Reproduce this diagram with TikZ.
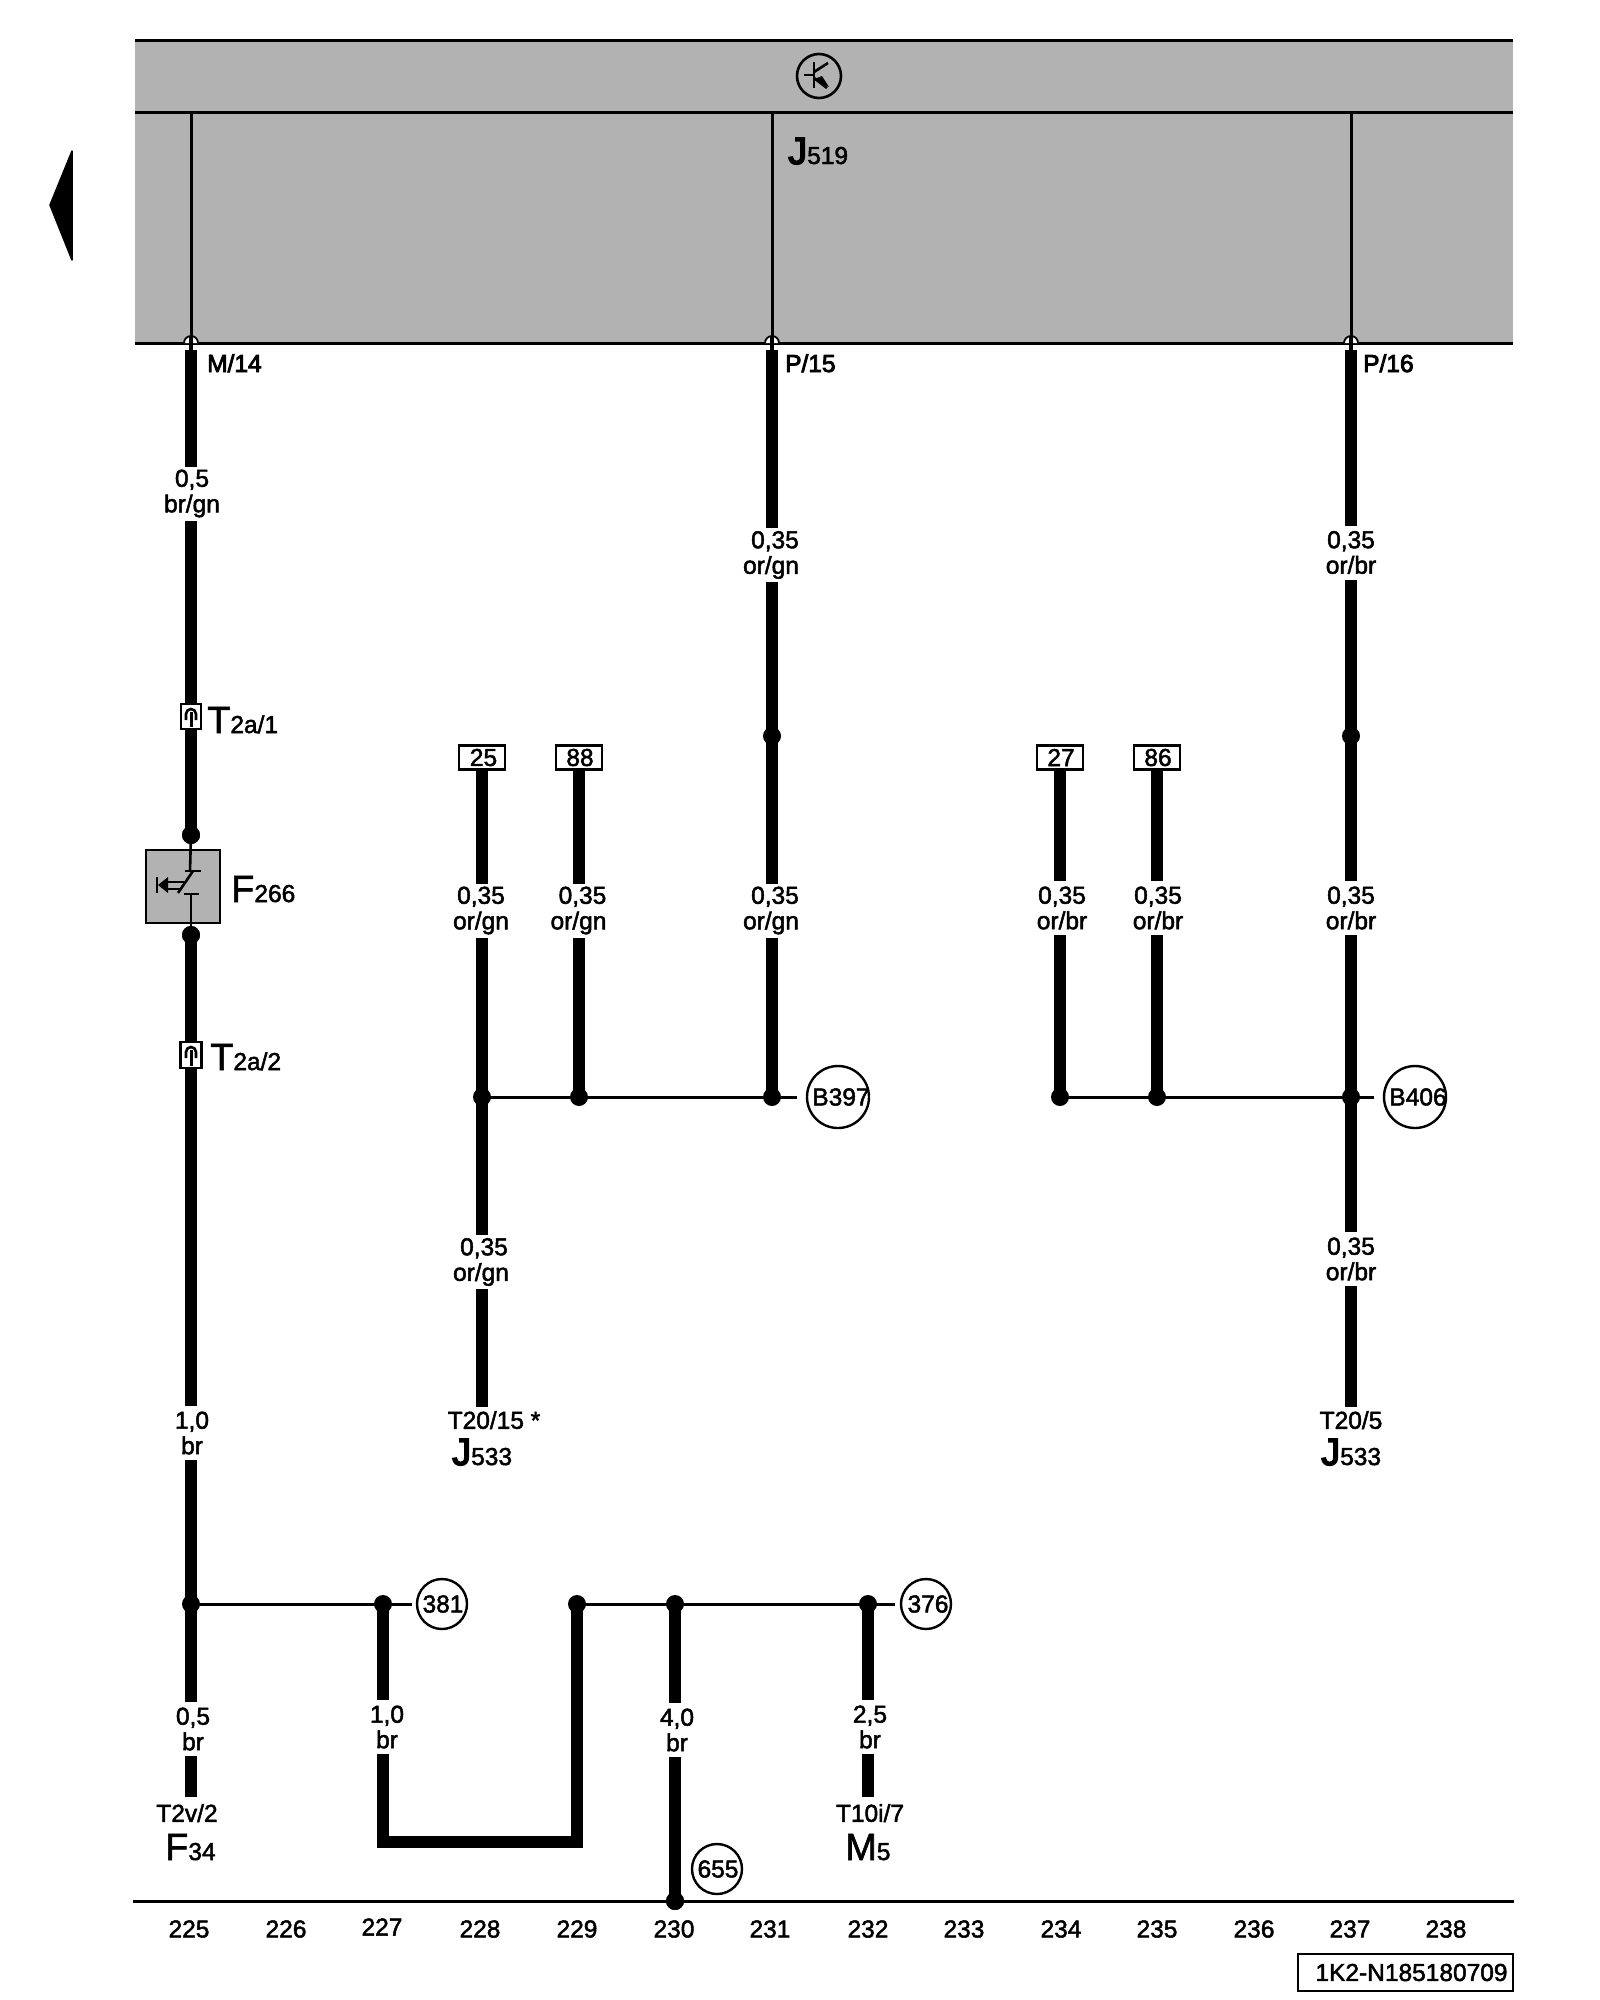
\documentclass[tikz,border=0pt]{standalone}
\usepackage{fontspec}
\setmainfont{Liberation Sans}
\newfontfamily\labf[FakeBold=2]{Liberation Sans}
\newfontfamily\pinf[FakeBold=3.5]{Liberation Sans}
\newfontfamily\bigf[FakeBold=1.5]{Liberation Sans}
\newfontfamily\jbf[FakeBold=4]{Liberation Sans}
\definecolor{panel}{HTML}{B2B2B2}
\tikzset{
  x=1pt,y=-1pt,
  wire/.style={line width=12.5pt,black},
  thin wire/.style={line width=3pt,black},
  frame line/.style={line width=3pt,black},
  dotn/.style={circle,fill=black,inner sep=0pt,minimum size=18pt},
  gauge/.style={fill=white,inner sep=0pt,inner xsep=1pt,minimum height=54pt,align=center,font=\labf\fontsize{24.5}{25.5}\selectfont},
  txt/.style={inner sep=0pt,font=\labf\fontsize{24.5}{26}\selectfont},
  pin/.style={inner sep=0pt,anchor=base west,font=\pinf\fontsize{24.5}{26}\selectfont},
  bigl/.style={inner sep=0pt,anchor=base west,font=\bigf\fontsize{38}{40}\selectfont},
  refc/.style={circle,draw=black,line width=2.4pt,fill=white,inner sep=0pt,minimum size=50pt,font=\labf\fontsize{24.5}{26}\selectfont},
  refb/.style={refc,minimum size=62pt},
  term/.style={draw=black,line width=2.4pt,fill=white,inner sep=0pt,minimum width=46pt,minimum height=24pt,font=\labf\fontsize{24.5}{26}\selectfont},
  conn/.style={draw=black,line width=2.4pt,fill=white,inner sep=0pt,minimum width=20pt,minimum height=25pt},
  sym/.style={line width=2.6pt,black},
}
\newcommand{\subs}[1]{{\labf\fontsize{24.5}{26}\selectfont #1}}
\begin{document}
\begin{tikzpicture}
\path[use as bounding box] (0,0) rectangle (1600,2000);
% control unit
\fill[panel] (135,40) rectangle (1513,343);
\coordinate (fl1) at (135,40); \coordinate (fr1) at (1513,40);
\coordinate (fl2) at (135,112); \coordinate (fr2) at (1513,112);
\coordinate (fl3) at (135,343); \coordinate (fr3) at (1513,343);
\draw[frame line] (fl1) -- (fr1);
\draw[frame line] (fl2) -- (fr2);
% back arrow
\fill[black,draw=black,line width=1.5pt,line join=round] (72,151) -- (50,205) -- (72,260) -- cycle;
% transistor symbol
\node[circle,draw=black,line width=2.6pt,inner sep=0pt,minimum size=44pt] (tr) at (819,76) {};
\draw[sym] (814,62) -- (814,88);
\draw[sym] (804,75) -- (814,75);
\draw[sym] (814,72) -- (828,63);
\draw[sym] (814,78) -- (827,88);
\fill[black] (829,87) -- (814,79) -- (822,76) -- cycle;
% internal lines
\coordinate (m0) at (191,112); \coordinate (m1) at (191,343);
\coordinate (p0) at (772,112); \coordinate (p1) at (772,343);
\coordinate (q0) at (1351,112); \coordinate (q1) at (1351,343);
\draw[thin wire] (m0) -- (m1);
\draw[thin wire] (p0) -- (p1);
\draw[thin wire] (q0) -- (q1);
\draw[frame line] (fl3) -- (fr3);
% pin circles
\foreach \xx in {191,772,1351}{
  \fill[white] (\xx-7,343) arc[start angle=180,end angle=360,x radius=7pt,y radius=-7pt] -- cycle;
  \draw[line width=1.8pt] (\xx-7,343) arc[start angle=180,end angle=360,x radius=7pt,y radius=-7pt];
  \draw[line width=4.5pt] (\xx,336) -- (\xx,350);
}
\node[bigl,font=\jbf\fontsize{38}{40}\selectfont] (j519) at (788,164) {J\subs{519}};
\node[pin] (m14) at (207,372) {M/14};
\node[pin] (p15) at (785,372) {P/15};
\node[pin] (p16) at (1363,372) {P/16};
% column 225
\coordinate (ms) at (191,350);
\node[dotn] (d1) at (191,835) {};
\node[dotn] (d2) at (191,935) {};
\node[dotn] (j1) at (191,1604) {};
\coordinate (e1) at (191,1797);
\draw[wire] (ms) -- (d1.center);
\draw[wire] (d2.center) -- (j1.center) -- (e1);
\node[gauge] (g1) at (192,493.5) {0,5\\br/gn};
\node[gauge] (g2) at (192,1433) {1,0\\br};
\node[gauge] (g3) at (193,1729) {0,5\\br};
% connectors
\node[conn] (t1) at (191,716.5) {};
\draw[sym] (186,720) -- (186,714) arc[start angle=180,end angle=0,radius=5pt] -- (196,720);
\draw[line width=3pt] (191,712) -- (191,727);
\node[bigl] (t1l) at (207,733) {T\subs{2a/1}};
\node[conn,minimum width=21pt,minimum height=26pt] (t2) at (191,1055) {};
\draw[sym] (186,1058) -- (186,1052) arc[start angle=180,end angle=0,radius=5pt] -- (196,1058);
\draw[line width=3pt] (191,1050) -- (191,1066);
\node[bigl] (t2l) at (210,1070) {T\subs{2a/2}};
% switch
\node[draw=black,line width=2.4pt,fill=panel,inner sep=0pt,minimum width=74pt,minimum height=73pt] (sw) at (183,886.5) {};
\draw[sym] (d1.center) -- (190,871);
\draw[sym] (185,871) -- (201,871);
\draw[sym] (178,893) -- (193,871);
\draw[sym] (184,894) -- (199,894);
\draw[sym] (191,894) -- (d2.center);
\draw[sym] (157,877) -- (157,893);
\fill[black] (158,885) -- (168,877) -- (168,893) -- cycle;
\draw[line width=2pt] (166,882) -- (184,882);
\draw[line width=2pt] (166,889) -- (181,889);
\node[bigl] (f266) at (231,902) {F\subs{266}};
\node[dotn] at (d1) {};
\node[dotn] at (d2) {};
\node[txt] (t2v) at (187,1813) {T2v/2};
\node[bigl] (f34) at (165,1860) {F\subs{34}};
% B397 group
\node[dotn] (a1) at (482,1097) {};
\node[dotn] (a2) at (579,1097) {};
\node[dotn] (a3) at (772,1097) {};
\coordinate (a4) at (797,1097);
\node[refb] (b397) at (838,1097) {\makebox[0pt]{\hspace{6pt}B397}};
\node[term] (t25) at (482,757.5) {\hspace{3pt}25};
\node[term] (t88) at (579,757.5) {\hspace{2pt}88};
\coordinate (a5) at (482,1407);
\coordinate (ps) at (772,350);
\node[dotn] (pd) at (772,736) {};
\draw[wire] (t25) -- (a1.center) -- (a5);
\draw[wire] (t88) -- (a2.center);
\draw[wire] (ps) -- (pd.center) -- (a3.center);
\draw[thin wire] (a1.center) -- (a4);
\node[gauge] (g4) at (771,555) {\hspace{8pt}0,35\\or/gn};
\node[gauge] (g5) at (771,910.5) {\hspace{8pt}0,35\\or/gn};
\node[gauge] (g6) at (481,910.5) {0,35\\or/gn};
\node[gauge] (g7) at (578.5,910.5) {\hspace{8pt}0,35\\or/gn};
\node[gauge] (g8) at (481,1262) {\hspace{6pt}0,35\\or/gn};
\node[txt] (t2015) at (494,1420) {T20/15 *};
\node[bigl,font=\jbf\fontsize{38}{40}\selectfont] (j5331) at (452,1465) {J\subs{533}};
% B406 group
\node[dotn] (c1) at (1060,1097) {};
\node[dotn] (c2) at (1157,1097) {};
\node[dotn] (c3) at (1351,1097) {};
\coordinate (c4) at (1374,1097);
\node[refb] (b406) at (1415,1097) {\makebox[0pt]{\hspace{6pt}B406}};
\node[term] (t27) at (1060,757.5) {\hspace{2pt}27};
\node[term] (t86) at (1157,757.5) {\hspace{2pt}86};
\coordinate (c5) at (1351,1407);
\coordinate (qs) at (1351,350);
\node[dotn] (qd) at (1351,736) {};
\draw[wire] (t27) -- (c1.center);
\draw[wire] (t86) -- (c2.center);
\draw[wire] (qs) -- (qd.center) -- (c3.center) -- (c5);
\draw[thin wire] (c1.center) -- (c4);
\node[gauge] (g9) at (1351,552.5) {0,35\\or/br};
\node[gauge] (g10) at (1351,908) {0,35\\or/br};
\node[gauge] (g11) at (1062,908) {0,35\\or/br};
\node[gauge] (g12) at (1158,908) {0,35\\or/br};
\node[gauge] (g13) at (1351,1259) {0,35\\or/br};
\node[txt] (t205) at (1351,1420) {T20/5};
\node[bigl,font=\jbf\fontsize{38}{40}\selectfont] (j5332) at (1321,1465) {J\subs{533}};
% lower group
\node[dotn] (b1) at (383,1604) {};
\node[dotn] (b2) at (577,1604) {};
\node[dotn] (b3) at (675,1604) {};
\node[dotn] (b4) at (868,1604) {};
\node[dotn] (b5) at (675,1901) {};
\coordinate (l1) at (412,1604);
\coordinate (l2) at (895,1604);
\coordinate (u1) at (383,1842);
\coordinate (u2) at (577,1842);
\coordinate (e4) at (868,1797);
\node[refc] (r381) at (442,1604) {\makebox[0pt]{\hspace{2pt}381}};
\node[refc] (r376) at (926,1604) {\makebox[0pt]{\hspace{4pt}376}};
\node[refc] (r655) at (717,1869) {\makebox[0pt]{\hspace{2pt}655}};
\draw[wire,line join=miter] (b1.center) -- (u1) -- (u2) -- (b2.center);
\draw[wire] (b3.center) -- (b5.center);
\draw[wire] (b4.center) -- (e4);
\draw[thin wire] (j1.center) -- (l1);
\draw[thin wire] (b2.center) -- (l2);
\node[gauge] (g14) at (387,1727) {1,0\\br};
\node[gauge] (g15) at (677,1730) {4,0\\br};
\node[gauge] (g16) at (870,1727) {2,5\\br};
\node[txt] (t10) at (870,1813) {T10i/7};
\node[bigl] (m5) at (845,1860) {M\subs{5}};
% bottom scale
\coordinate (bl) at (133,1901); \coordinate (br) at (1514,1901);
\draw[frame line] (bl) -- (br);
\node[dotn] at (b5) {};
\foreach \xx/\yy/\tt in {189/1929/225,286/1929/226,382/1927/227,480/1929/228,577/1929/229,674/1929/230,770/1929/231,868/1929/232,964/1929/233,1061/1929/234,1157/1929/235,1254/1929/236,1350/1929/237,1446/1929/238}{
  \node[txt] at (\xx,\yy) {\tt};
}
\node[draw=black,line width=2.4pt,inner sep=0pt,minimum width=215pt,minimum height=37pt,font=\labf\fontsize{24.5}{26}\selectfont] (code) at (1405.5,1972.5) {\hspace{12pt}1K2-N185180709};
\end{tikzpicture}
\end{document}
